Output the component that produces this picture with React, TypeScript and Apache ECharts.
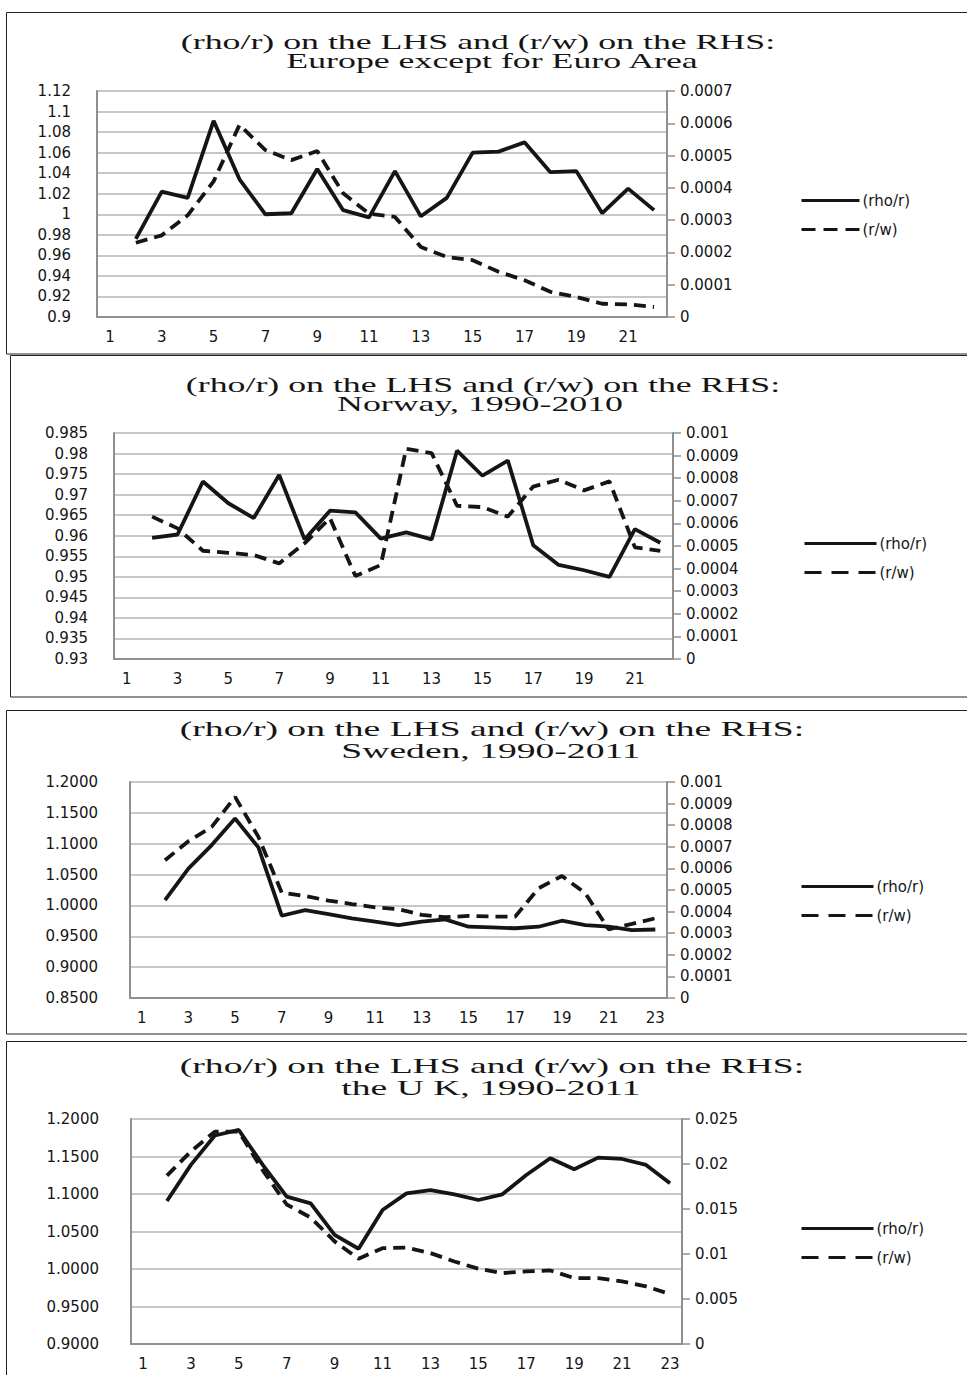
import React, { useEffect, useRef } from "react";
import * as echarts from "echarts";

// ---------- data ----------
const CATS_22 = ["1","2","3","4","5","6","7","8","9","10","11","12","13","14","15","16","17","18","19","20","21","22"];
const CATS_23 = ["1","2","3","4","5","6","7","8","9","10","11","12","13","14","15","16","17","18","19","20","21","22","23"];

const SERIES_NAMES = ["(rho/r)", "(r/w)"];

// Europe except for Euro Area
const EUR_RHO = [null, 0.976, 1.022, 1.016, 1.091, 1.034, 1.0, 1.001, 1.044, 1.004, 0.997, 1.042, 0.998, 1.016, 1.06, 1.061, 1.07, 1.041, 1.042, 1.001, 1.025, 1.004];
const EUR_RW = [null, 0.00023, 0.000253, 0.000315, 0.00042, 0.000595, 0.000517, 0.000486, 0.000514, 0.000383, 0.00032, 0.00031, 0.000217, 0.000186, 0.000176, 0.00014, 0.000114, 0.000078, 0.000062, 0.000041, 0.000039, 0.000031];

// Norway, 1990-2010
const NOR_RHO = [null, 0.9595, 0.9603, 0.9732, 0.9679, 0.9643, 0.9748, 0.9591, 0.9661, 0.9657, 0.9593, 0.9608, 0.9591, 0.9807, 0.9746, 0.9783, 0.9577, 0.9529, 0.9516, 0.95, 0.9616, 0.9583];
const NOR_RW = [null, 0.00063, 0.000578, 0.000479, 0.00047, 0.00046, 0.000423, 0.000512, 0.000623, 0.000367, 0.000416, 0.00093, 0.000911, 0.000678, 0.000672, 0.00063, 0.000763, 0.000793, 0.000746, 0.000786, 0.000494, 0.000478];

// Sweden, 1990-2011
const SWE_RHO = [null, 1.0086, 1.0597, 1.0978, 1.1408, 1.094, 0.9833, 0.9925, 0.986, 0.979, 0.9736, 0.968, 0.9736, 0.9774, 0.9655, 0.9645, 0.963, 0.9655, 0.9752, 0.968, 0.9655, 0.96, 0.961];
const SWE_RW = [null, 0.000638, 0.000726, 0.000792, 0.000931, 0.000746, 0.000488, 0.000472, 0.000451, 0.000435, 0.00042, 0.000411, 0.000385, 0.000374, 0.00038, 0.000377, 0.000377, 0.000508, 0.000565, 0.000485, 0.000318, 0.000343, 0.000369];

// the U K, 1990-2011
const UK_RHO = [null, 1.0907, 1.1388, 1.178, 1.1854, 1.1388, 1.0964, 1.0876, 1.0456, 1.027, 1.0787, 1.1009, 1.1053, 1.0996, 1.092, 1.0996, 1.1253, 1.1476, 1.1329, 1.1485, 1.1467, 1.1388, 1.1144];
const UK_RW = [null, 0.0187, 0.0214, 0.0236, 0.0236, 0.0193, 0.0155, 0.01405, 0.0114, 0.00947, 0.01065, 0.0107, 0.0101, 0.00917, 0.00836, 0.00788, 0.00806, 0.00817, 0.00732, 0.00732, 0.00695, 0.0064, 0.00555];

// axis ranges [min, max, interval]
const EUR_LEFT = [0.9, 1.12, 0.02];
const EUR_RIGHT = [0, 0.0007, 0.0001];
const NOR_LEFT = [0.93, 0.985, 0.005];
const NOR_RIGHT = [0, 0.001, 0.0001];
const SWE_LEFT = [0.85, 1.2, 0.05];
const SWE_RIGHT = [0, 0.001, 0.0001];
const UK_LEFT = [0.9, 1.2, 0.05];
const UK_RIGHT = [0, 0.025, 0.005];

const TITLE_LINE1 = "(rho/r) on the LHS and (r/w) on the RHS:";
const EUR_TITLE = "Europe except for Euro Area";
const NOR_TITLE = "Norway, 1990-2010";
const SWE_TITLE = "Sweden, 1990-2011";
const UK_TITLE = "the U K, 1990-2011";

// ---------- layout ----------
const PANELS = [
  {
    cats: CATS_22, rho: EUR_RHO, rw: EUR_RW, left: EUR_LEFT, right: EUR_RIGHT, leftDec: 2, leftFixed: false,
    grid: { left: 97, top: 91, width: 570, height: 226 }, leftMargin: 26,
    title2: EUR_TITLE, t1: [478, 42, 1.79], t2: [492, 61, 1.79],
    legend: { left: 800, top: 193, itemWidth: 58, dash: [14, 8] },
    box: [6.5, 12.5, 1000, 341.5],
  },
  {
    cats: CATS_22, rho: NOR_RHO, rw: NOR_RW, left: NOR_LEFT, right: NOR_RIGHT, leftDec: 3, leftFixed: false,
    grid: { left: 114, top: 433, width: 559, height: 226 }, leftMargin: 26,
    title2: NOR_TITLE, t1: [483, 385, 1.79], t2: [480, 404, 1.79],
    legend: { left: 803, top: 536, itemWidth: 72, dash: [17, 10] },
    box: [10.5, 355.5, 1000, 341.5],
  },
  {
    cats: CATS_23, rho: SWE_RHO, rw: SWE_RW, left: SWE_LEFT, right: SWE_RIGHT, leftDec: 4, leftFixed: true,
    grid: { left: 130, top: 782, width: 537, height: 216 }, leftMargin: 32,
    title2: SWE_TITLE, t1: [492, 729, 1.88], t2: [491, 751, 1.88],
    legend: { left: 800, top: 879, itemWidth: 72, dash: [17, 10] },
    box: [6.5, 710.5, 1000, 323.5],
  },
  {
    cats: CATS_23, rho: UK_RHO, rw: UK_RW, left: UK_LEFT, right: UK_RIGHT, leftDec: 4, leftFixed: true,
    grid: { left: 131, top: 1119, width: 551, height: 225 }, leftMargin: 32,
    title2: UK_TITLE, t1: [492, 1066, 1.88], t2: [491, 1088, 1.88],
    legend: { left: 800, top: 1221, itemWidth: 72, dash: [17, 10] },
    box: [6.5, 1041.5, 1000, 400],
  },
];

const LABEL_FONT = "DejaVu Sans";
const AXIS_GRAY = "#8f8f8f";
const GRID_GRAY = "#b4b4b4";
const INK = "#151515";
const FS = 15;

function strip(v: number, d: number) {
  return String(parseFloat(Number(v).toFixed(d)));
}

function buildOption() {
  const grid: any[] = [];
  const xAxis: any[] = [];
  const yAxis: any[] = [];
  const series: any[] = [];
  const legend: any[] = [];
  const graphic: any[] = [];

  PANELS.forEach((p, i) => {
    grid.push({ ...p.grid, containLabel: false });
    xAxis.push({
      type: "category",
      gridIndex: i,
      data: p.cats,
      boundaryGap: true,
      axisLine: { show: true, lineStyle: { color: AXIS_GRAY, width: 2 } },
      axisTick: { show: false },
      axisLabel: { interval: 1, margin: 12, fontFamily: LABEL_FONT, fontSize: FS, color: INK },
      splitLine: { show: false },
    });
    yAxis.push({
      type: "value",
      gridIndex: i,
      position: "left",
      min: p.left[0],
      max: p.left[1],
      interval: p.left[2],
      axisLine: { show: true, lineStyle: { color: AXIS_GRAY, width: 2 } },
      axisTick: { show: false },
      axisLabel: {
        margin: p.leftMargin,
        fontFamily: LABEL_FONT,
        fontSize: FS,
        color: INK,
        formatter: (v: number) => (p.leftFixed ? Number(v).toFixed(p.leftDec) : strip(v, p.leftDec)),
      },
      splitLine: { show: true, lineStyle: { color: GRID_GRAY, width: 1.5 } },
    });
    yAxis.push({
      type: "value",
      gridIndex: i,
      position: "right",
      min: p.right[0],
      max: p.right[1],
      interval: p.right[2],
      axisLine: { show: true, lineStyle: { color: AXIS_GRAY, width: 2 } },
      axisTick: { show: true, inside: false, length: 8, lineStyle: { color: AXIS_GRAY, width: 1.5 } },
      axisLabel: {
        margin: 13,
        fontFamily: LABEL_FONT,
        fontSize: FS,
        color: INK,
        formatter: (v: number) => strip(v, 4),
      },
      splitLine: { show: false },
    });
    series.push({
      name: SERIES_NAMES[0],
      type: "line",
      xAxisIndex: i,
      yAxisIndex: i * 2,
      data: p.rho,
      symbol: "none",
      lineStyle: { color: INK, width: 3.8, type: "solid" },
      itemStyle: { color: INK },
      z: 3,
    });
    series.push({
      name: SERIES_NAMES[1],
      type: "line",
      xAxisIndex: i,
      yAxisIndex: i * 2 + 1,
      data: p.rw,
      symbol: "none",
      lineStyle: { color: INK, width: 3.8, type: [12, 7] },
      itemStyle: { color: INK },
      z: 2,
    });
    legend.push({
      data: [
        { name: SERIES_NAMES[0], lineStyle: { type: "solid", width: 3, color: INK } },
        { name: SERIES_NAMES[1], lineStyle: { type: p.legend.dash, width: 3, color: INK } },
      ],
      orient: "vertical",
      left: p.legend.left,
      top: p.legend.top,
      padding: 0,
      itemWidth: p.legend.itemWidth,
      itemHeight: 14,
      itemGap: 14,
      selectedMode: false,
      itemStyle: { opacity: 0, color: "rgba(0,0,0,0)", borderColor: "rgba(0,0,0,0)", borderWidth: 0 },
      lineStyle: { width: 3, color: INK },
      textStyle: { fontFamily: LABEL_FONT, fontSize: FS, color: INK, padding: [0, 0, 0, -2] },
    });
    graphic.push({
      type: "rect",
      shape: { x: p.box[0], y: p.box[1], width: p.box[2], height: p.box[3] },
      style: { fill: "none", stroke: "#222", lineWidth: 1 },
      silent: true,
      z: -10,
    });
    graphic.push({
      type: "text",
      x: p.t1[0],
      y: p.t1[1],
      scaleX: p.t1[2],
      style: {
        text: TITLE_LINE1,
        font: '20px "Liberation Serif"',
        fill: INK,
        align: "center",
        verticalAlign: "middle",
        textAlign: "center",
        textVerticalAlign: "middle",
      },
    });
    graphic.push({
      type: "text",
      x: p.t2[0],
      y: p.t2[1],
      scaleX: p.t2[2],
      style: {
        text: p.title2,
        font: '20px "Liberation Serif"',
        fill: INK,
        align: "center",
        verticalAlign: "middle",
        textAlign: "center",
        textVerticalAlign: "middle",
      },
    });
  });

  return {
    animation: false,
    backgroundColor: "#ffffff",
    grid,
    xAxis,
    yAxis,
    series,
    legend,
    graphic,
  };
}

export default function App() {
  const ref = useRef<HTMLDivElement>(null);
  useEffect(() => {
    if (!ref.current) return;
    const chart = echarts.init(ref.current, undefined, { renderer: "svg" });
    chart.setOption(buildOption() as any);
    return () => chart.dispose();
  }, []);
  return (
    <div
      ref={ref}
      style={{ position: "absolute", left: 0, top: 0, width: 967, height: 1375, background: "#fff" }}
    />
  );
}
